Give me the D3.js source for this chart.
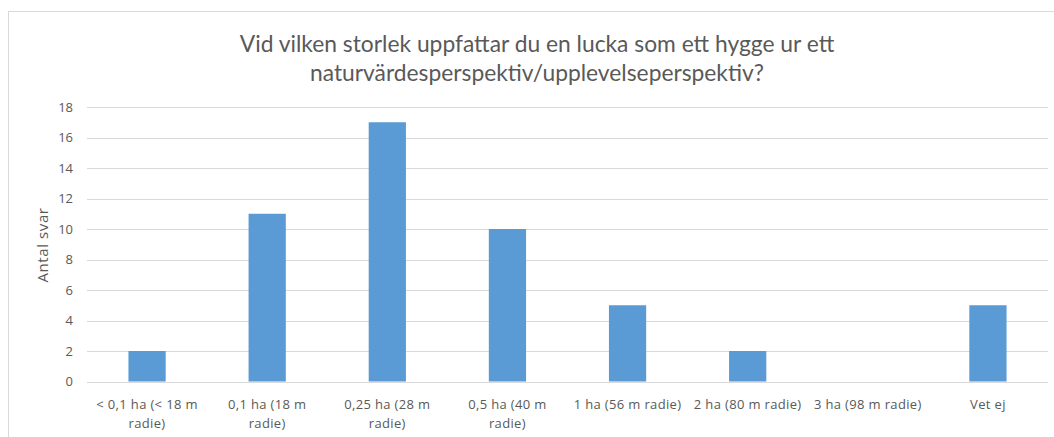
<!DOCTYPE html>
<html>
<head>
<meta charset="utf-8">
<script src="https://cdn.jsdelivr.net/npm/d3@7"></script>
<style>
    body { margin: 0; background: #fff; }
    text { font-family: "Open Sans", "Noto Sans", sans-serif; }
</style>
</head>
<body>
<div id="chart"></div>
<script>
'use strict';

var categories = [
    ['< 0,1 ha (< 18 m', 'radie)'],
    ['0,1 ha (18 m', 'radie)'],
    ['0,25 ha (28 m', 'radie)'],
    ['0,5 ha (40 m', 'radie)'],
    ['1 ha (56 m radie)'],
    ['2 ha (80 m radie)'],
    ['3 ha (98 m radie)'],
    ['Vet ej']
];
var values = [2, 11, 17, 10, 5, 2, 0, 5];
var yTicks = [0, 2, 4, 6, 8, 10, 12, 14, 16, 18];
var titleLines = [
    'Vid vilken storlek uppfattar du en lucka som ett hygge ur ett',
    'naturvärdesperspektiv/upplevelseperspektiv?'
];
var yTitle = 'Antal svar';

var width = 1054,
    height = 437;

var margin = {top: 107, right: 6, bottom: 56, left: 87};

var svg = d3.select('#chart').append('svg')
    .attr('width', width)
    .attr('height', height);

// chart frame
svg.append('rect')
    .attr('x', 8.5)
    .attr('y', 11.5)
    .attr('width', width + 20)
    .attr('height', height + 20)
    .attr('fill', '#fff')
    .attr('stroke', '#d9d9d9');

var x = d3.scaleBand()
    .domain(d3.range(categories.length))
    .range([margin.left, width - margin.right])
    .paddingInner(0.69)
    .paddingOuter(0.345);

var y = d3.scaleLinear()
    .domain([0, 18])
    .range([height - margin.bottom + 0.5, margin.top]);

// gridlines
svg.append('g')
    .selectAll('line')
    .data(yTicks)
    .enter()
    .append('line')
    .attr('x1', margin.left)
    .attr('x2', width - margin.right)
    .attr('y1', function(d) { return Math.round(y(d)) + 0.5; })
    .attr('y2', function(d) { return Math.round(y(d)) + 0.5; })
    .attr('stroke', '#d9d9d9')
    .attr('stroke-width', 1);

// y axis labels
var yAxis = d3.axisLeft(y).tickValues(yTicks).tickSize(0).tickPadding(14);
svg.append('g')
    .attr('transform', 'translate(' + margin.left + ',0)')
    .call(yAxis)
    .call(function(g) { g.select('.domain').remove(); })
    .selectAll('text')
    .attr('fill', '#595959')
    .style('font-family', '"Open Sans", sans-serif')
    .style('font-size', '13px');

// bars
svg.append('g')
    .selectAll('rect')
    .data(values)
    .enter()
    .append('rect')
    .attr('x', function(d, i) { return x(i); })
    .attr('y', function(d) { return y(d); })
    .attr('width', x.bandwidth())
    .attr('height', function(d) { return y(0) - y(d); })
    .attr('fill', '#5b9bd5');

// x axis labels
var xl = svg.append('g')
    .selectAll('text')
    .data(categories)
    .enter()
    .append('text')
    .attr('text-anchor', 'middle')
    .attr('fill', '#595959')
    .style('font-size', '13px')
    .style('letter-spacing', '0.35px');

xl.selectAll('tspan')
    .data(function(d, i) { return d.map(function(s) { return {s: s, i: i}; }); })
    .enter()
    .append('tspan')
    .attr('x', function(d) { return x(d.i) + x.bandwidth() / 2; })
    .attr('y', function(d, j) { return 409 + j * 19; })
    .text(function(d) { return d.s; });

// y axis title
svg.append('text')
    .attr('transform', 'translate(48,' + 245 + ') rotate(-90)')
    .attr('text-anchor', 'middle')
    .attr('fill', '#595959')
    .style('font-size', '15px')
    .style('letter-spacing', '0.6px')
    .text(yTitle);

// title
svg.append('g')
    .selectAll('text')
    .data(titleLines)
    .enter()
    .append('text')
    .attr('x', 537)
    .attr('y', function(d, i) { return 52 + i * 29; })
    .attr('text-anchor', 'middle')
    .attr('fill', '#595959')
    .style('font-family', 'Lato, "Open Sans", sans-serif')
    .style('font-size', '22.8px')
    .text(function(d) { return d; });
</script>
</body>
</html>
